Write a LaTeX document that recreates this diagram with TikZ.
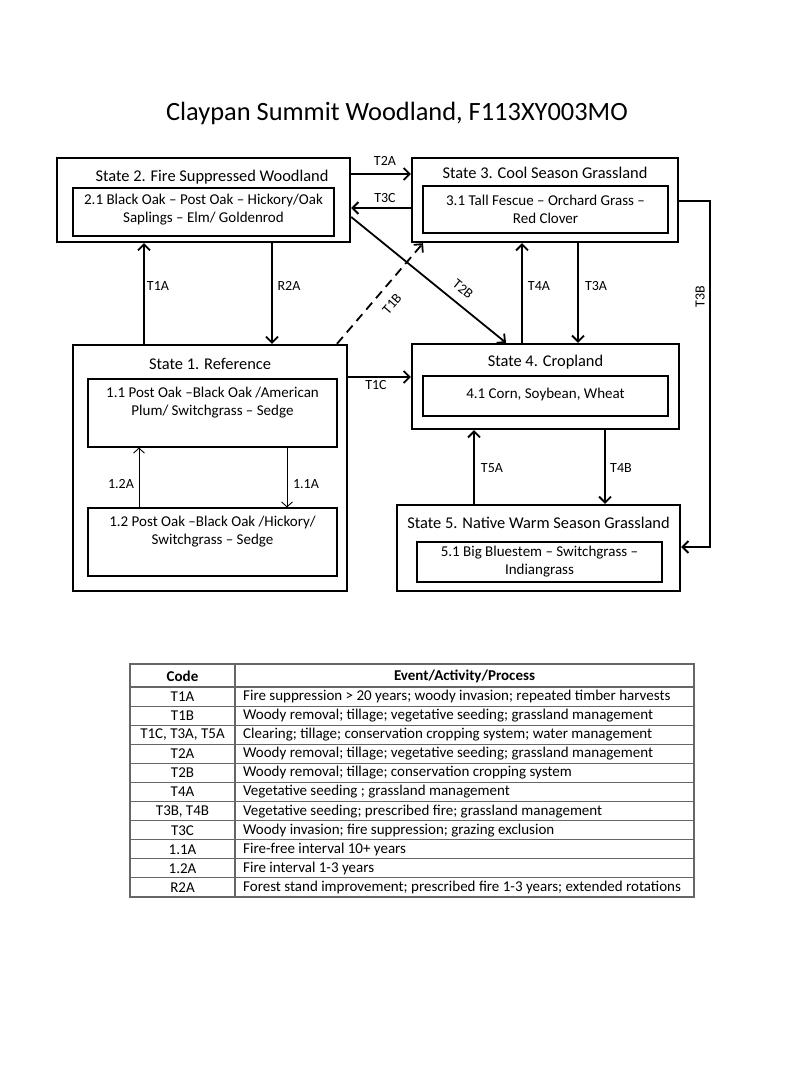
\documentclass[tikz,border=0pt]{standalone}
\usepackage{fontspec}
\setmainfont{Carlito}
\usetikzlibrary{arrows.meta}
\begin{document}
\begin{tikzpicture}[x=1pt,y=-1pt,
  outerbox/.style={draw, line width=2.4pt, inner sep=0pt},
  innerbox/.style={draw, line width=1.1pt, inner sep=0pt},
  sttitle/.style={font=\fontsize{16.4}{19}\selectfont, inner sep=0pt},
  sttext/.style={font=\fontsize{15}{18}\selectfont, align=center, inner sep=0pt},
  conn/.style={line width=1.8pt, -{Straight Barb[length=6pt,width=12pt,line width=1.8pt]}},
  thinconn/.style={line width=0.9pt, -{Straight Barb[length=5pt,width=11pt,line width=0.9pt]}},
  lbl/.style={font=\fontsize{14}{16}\selectfont, inner sep=0pt},
  tbl/.style={font=\fontsize{15}{17}\selectfont, inner sep=0pt},
  tline/.style={draw=black!60, line width=1.1pt}
]
\useasboundingbox[fill=white] (0,0) rectangle (800,1067);

% title
\node[font=\fontsize{26.4}{30}\selectfont, inner sep=0pt] (title) at (397,113) {Claypan Summit Woodland, F113XY003MO};

% State 2
\node[outerbox, minimum width=293pt, minimum height=84pt] (s2) at (203.5,200) {};
\node[sttitle] (s2t) at (212,177) {State 2. Fire Suppressed Woodland};
\node[innerbox, minimum width=261pt, minimum height=48pt] (s2i) at (203.5,212) {};
\node[sttext] (s2x) at (203.5,210) {2.1 Black Oak -- Post Oak -- Hickory/Oak\\Saplings -- Elm/ Goldenrod};

% State 3
\node[outerbox, minimum width=266pt, minimum height=84pt] (s3) at (545,200) {};
\node[sttitle] (s3t) at (545,173) {State 3. Cool Season Grassland};
\node[innerbox, minimum width=245pt, minimum height=47pt] (s3i) at (545.5,209.5) {};
\node[sttext] (s3x) at (545.5,209) {3.1 Tall Fescue -- Orchard Grass --\\Red Clover};

% State 1
\node[outerbox, minimum width=274pt, minimum height=246pt] (s1) at (210,468) {};
\node[sttitle] (s1t) at (210,364) {State 1. Reference};
\node[innerbox, minimum width=249pt, minimum height=68pt] (s1a) at (212.5,413) {};
\node[sttext] (s1ax) at (212.5,403) {1.1 Post Oak --Black Oak /American\\Plum/ Switchgrass -- Sedge};
\node[innerbox, minimum width=249pt, minimum height=68pt] (s1b) at (212.5,542) {};
\node[sttext] (s1bx) at (212.5,532) {1.2 Post Oak --Black Oak /Hickory/\\Switchgrass -- Sedge};

% State 4
\node[outerbox, minimum width=267pt, minimum height=85pt] (s4) at (545.5,386.5) {};
\node[sttitle] (s4t) at (545.5,362) {State 4. Cropland};
\node[innerbox, minimum width=245pt, minimum height=40pt] (s4i) at (545.5,396) {};
\node[sttext] (s4x) at (545.5,394) {4.1 Corn, Soybean, Wheat};

% State 5
\node[outerbox, minimum width=283pt, minimum height=86pt] (s5) at (538.5,548) {};
\node[sttitle] (s5t) at (538.5,523) {State 5. Native Warm Season Grassland};
\node[innerbox, minimum width=245pt, minimum height=40pt] (s5i) at (539.5,562) {};
\node[sttext] (s5x) at (539.5,562) {5.1 Big Bluestem -- Switchgrass --\\Indiangrass};

% helper coordinates
\coordinate (xT1A) at (144,0);
\coordinate (xR2A) at (272,0);
\coordinate (xT4A) at (522,0);
\coordinate (xT3A) at (578,0);
\coordinate (xT5A) at (474,0);
\coordinate (xT4B) at (605,0);
\coordinate (x12A) at (139,0);
\coordinate (x11A) at (287,0);
\coordinate (xT1Bs) at (337,0);
\coordinate (xT1Be) at (423,0);
\coordinate (xT2Be) at (506,0);
\coordinate (yT2A) at (0,174);
\coordinate (yT3C) at (0,208);
\coordinate (yT2Bs) at (0,217);
\coordinate (yT1C) at (0,377);
\coordinate (yT3Bs) at (0,201);
\coordinate (cT3B) at (710,547);

% connectors
\draw[conn] (s2.east |- yT2A) -- (s3.west |- yT2A);
\draw[conn] (s3.west |- yT3C) -- (s2.east |- yT3C);
\draw[conn] (xT1A |- s1.north) -- (xT1A |- s2.south);
\draw[conn] (xR2A |- s2.south) -- (xR2A |- s1.north);
\draw[conn, dashed, dash pattern=on 9pt off 6pt] (xT1Bs |- s1.north) -- (xT1Be |- s3.south);
\draw[conn] (s2.east |- yT2Bs) -- (xT2Be |- s4.north);
\draw[conn] (xT4A |- s4.north) -- (xT4A |- s3.south);
\draw[conn] (xT3A |- s3.south) -- (xT3A |- s4.north);
\draw[conn] (s1.east |- yT1C) -- (s4.west |- yT1C);
\draw[conn] (xT5A |- s5.north) -- (xT5A |- s4.south);
\draw[conn] (xT4B |- s4.south) -- (xT4B |- s5.north);
\draw[conn] (s3.east |- yT3Bs) -| (cT3B) -- (s5.east |- cT3B);
\draw[thinconn] (x12A |- s1b.north) -- (x12A |- s1a.south);
\draw[thinconn] (x11A |- s1a.south) -- (x11A |- s1b.north);

% labels
\node[lbl] (lT2A) at (385,161) {T2A};
\node[lbl] (lT3C) at (385,198) {T3C};
\node[lbl] (lT1A) at (158,286) {T1A};
\node[lbl] (lR2A) at (289,286) {R2A};
\node[lbl, rotate=49] (lT1B) at (392,304) {T1B};
\node[lbl, rotate=-39] (lT2B) at (463,289) {T2B};
\node[lbl] (lT4A) at (539,286) {T4A};
\node[lbl] (lT3A) at (596,286) {T3A};
\node[lbl, rotate=90] (lT3B) at (700,297) {T3B};
\node[lbl] (lT1C) at (376,385) {T1C};
\node[lbl] (lT5A) at (492,468) {T5A};
\node[lbl] (lT4B) at (621,468) {T4B};
\node[lbl] (l12A) at (121,484) {1.2A};
\node[lbl] (l11A) at (306,484) {1.1A};

% table
\def\rh{19.09}
\draw[tline] (130,664) rectangle (694,897);
\draw[tline] (235,664) -- (235,897);
\draw[tline] (130,687) -- (694,687);
\foreach \i in {1,...,10} {
  \draw[tline] (130,687+\i*\rh) -- (694,687+\i*\rh);
}
\node[tbl, font=\fontsize{15}{17}\selectfont\bfseries] (hc) at (182.5,676) {Code};
\node[tbl, font=\fontsize{15}{17}\selectfont\bfseries] (he) at (464.5,676) {Event/Activity/Process};
\foreach [count=\i] \c/\t in {
  T1A/{Fire suppression > 20 years; woody invasion; repeated timber harvests},
  T1B/{Woody removal; tillage; vegetative seeding; grassland management},
  {T1C, T3A, T5A}/{Clearing; tillage; conservation cropping system; water management},
  T2A/{Woody removal; tillage; vegetative seeding; grassland management},
  T2B/{Woody removal; tillage; conservation cropping system},
  T4A/{Vegetative seeding ; grassland management},
  {T3B, T4B}/{Vegetative seeding; prescribed fire; grassland management},
  T3C/{Woody invasion; fire suppression; grazing exclusion},
  1.1A/{Fire-free interval 10+ years},
  1.2A/{Fire interval 1-3 years},
  R2A/{Forest stand improvement; prescribed fire 1-3 years; extended rotations}} {
  \node[tbl] (c\i) at (182.5,687+\i*\rh-0.5*\rh) {\c};
  \node[tbl, anchor=west] (t\i) at (243,687+\i*\rh-0.5*\rh) {\t};
}
\end{tikzpicture}
\end{document}
